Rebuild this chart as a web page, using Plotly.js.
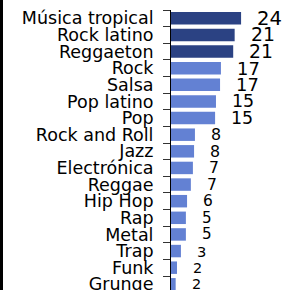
<!DOCTYPE html>
<html>
<head>
<meta charset="utf-8">
<script src="https://cdn.plot.ly/plotly-3.0.1.min.js"></script>
<style>html,body{margin:0;padding:0;background:#fff;}#chart{width:282px;height:290px;}</style>
</head>
<body>
<div id="chart"></div>
<script>
const genres = ["Música tropical","Rock latino","Reggaeton","Rock","Salsa","Pop latino","Pop","Rock and Roll","Jazz","Electrónica","Reggae","Hip Hop","Rap","Metal","Trap","Funk","Grunge"];
const shares = [24.0,21.8,21.3,17.1,16.8,15.4,15.1,8.2,7.9,7.5,6.8,5.5,5.1,5.1,3.4,2.05,1.6];
const shareLabels = ["24","21","21","17","17","15","15","8","8","7","7","6","5","5","3","2","2"];
const topCount = 3;

const W = 282, H = 290, L = 171, T = 10;
const plotW = W - L;
const pxPerUnit = 2.92;
const catPx = 16.625;

const colors = genres.map((g, i) => i < topCount ? "#2B4283" : "#6381D3");

const annotations = genres.map((g, i) => ({
  x: shares[i], y: g, xref: "x", yref: "y",
  text: shareLabels[i], showarrow: false,
  xanchor: "left", yanchor: "middle", xshift: 14,
  font: {family: "DejaVu Sans", size: 14 + 0.23 * Number(shareLabels[i]), color: "#000"}
}));

const trace = {
  type: "bar", orientation: "h",
  x: shares, y: genres,
  marker: {color: colors},
  hoverinfo: "none"
};

const layout = {
  width: W, height: H,
  margin: {l: L, r: 0, t: T, b: 0, pad: 0},
  paper_bgcolor: "#fff", plot_bgcolor: "#fff",
  showlegend: false,
  bargap: 0.25,
  xaxis: {range: [0, plotW / pxPerUnit], showgrid: false, zeroline: false, showticklabels: false, showline: false, ticks: ""},
  yaxis: {
    type: "category",
    range: [-0.5 + (H - T) / catPx, -0.5],
    tickmode: "linear", tick0: 0, dtick: 1,
    showline: true, linecolor: "#000", linewidth: 1,
    ticks: "outside", ticklen: 7, tickcolor: "#333", tickwidth: 1,
    tickson: "boundaries",
    ticklabelstandoff: 13,
    showgrid: false, zeroline: false,
    tickfont: {family: "DejaVu Sans", size: 17.5, color: "#000"}
  },
  annotations: annotations,
  shapes: [{
    type: "rect", xref: "paper", yref: "paper",
    x0: -L / plotW, x1: (-L + 3) / plotW, y0: -0.1, y1: 1.1,
    fillcolor: "#000", line: {width: 0}
  }]
};

Plotly.newPlot("chart", [trace], layout, {displayModeBar: false, staticPlot: true});
</script>
</body>
</html>
